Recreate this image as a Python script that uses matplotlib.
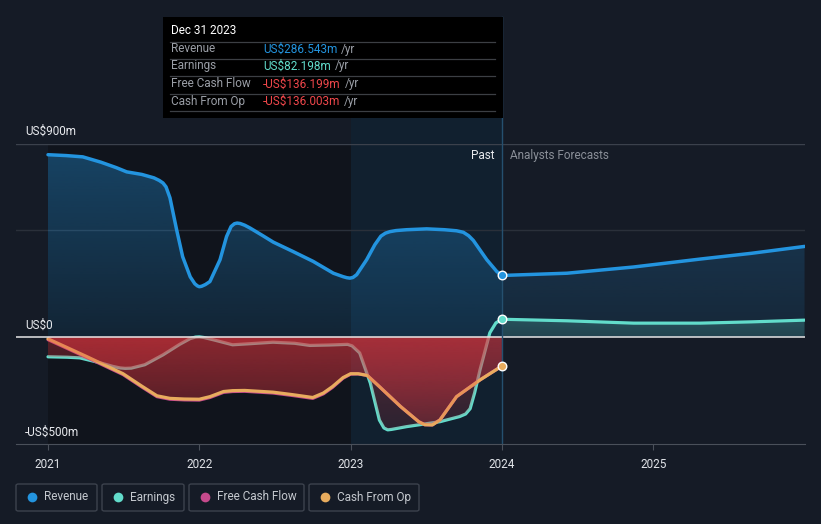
import numpy as np
import matplotlib
matplotlib.use("Agg")
import matplotlib.pyplot as plt
from matplotlib.patches import Rectangle, FancyBboxPatch

plt.rcParams['font.family'] = ['Roboto', 'DejaVu Sans']

# ---- data (US$m) ----
rev_years = [2021.0, 2021.12, 2021.23, 2021.35, 2021.45, 2021.52, 2021.62, 2021.70, 2021.735,
             2021.76, 2021.78, 2021.806, 2021.85, 2021.89, 2021.94, 2021.97, 2021.987, 2022.0,
             2022.015, 2022.04, 2022.07, 2022.137, 2022.18, 2022.21, 2022.232, 2022.25,
             2022.27, 2022.30, 2022.335, 2022.42, 2022.489, 2022.62, 2022.753, 2022.886,
             2022.95, 2022.975, 2022.995, 2023.015, 2023.04, 2023.106, 2023.16, 2023.2,
             2023.23, 2023.26, 2023.30, 2023.37, 2023.503, 2023.62, 2023.70, 2023.745,
             2023.78, 2023.811, 2023.9, 2023.966, 2024.0]
revenue = [850, 846, 840, 815, 790, 770, 758, 742, 730,
           718, 700, 649, 500, 374, 280, 248, 238, 234,
           236, 244, 258, 360, 468, 515, 528, 531,
           529, 521, 508, 472, 442, 398, 352, 297,
           281, 276, 274, 277, 290, 360, 430, 470,
           484, 491, 496, 500, 504, 500, 495, 488,
           472, 450, 360, 305, 286.5]
rev_fc_years = [2024.0, 2024.43, 2024.87, 2025.31, 2025.65, 2026.0]
revenue_fc = [286.5, 297, 326, 363, 390, 422]

earn_years = [2021.0, 2021.126, 2021.21, 2021.344, 2021.43, 2021.476, 2021.51, 2021.55,
              2021.64, 2021.76, 2021.87, 2021.94, 2021.975, 2022.0, 2022.03, 2022.10, 2022.22,
              2022.335, 2022.487, 2022.63, 2022.73, 2022.86, 2022.98, 2023.01, 2023.06,
              2023.13, 2023.19, 2023.22, 2023.245, 2023.27, 2023.37, 2023.59, 2023.72,
              2023.76, 2023.79, 2023.82, 2023.855, 2023.92, 2023.96, 2024.0]
earnings = [-93, -95, -98, -121, -138, -145, -147, -146,
            -130, -84, -35, -8, -1, 0, -3, -15, -37,
            -32, -25, -30, -40, -38, -35, -42, -75,
            -215, -388, -425, -434, -432, -419, -396, -372,
            -360, -335, -260, -154, 19, 65, 82.2]
earn_fc_years = [2024.0, 2024.43, 2024.87, 2025.31, 2025.65, 2026.0]
earnings_fc = [82.2, 75, 64, 64, 70, 78]

cash_years = [2021.0, 2021.25, 2021.496, 2021.62, 2021.72, 2021.806, 2021.9, 2022.0, 2022.07,
              2022.16, 2022.22, 2022.3, 2022.487, 2022.62, 2022.75, 2022.82, 2022.88, 2022.95,
              2023.0, 2023.05, 2023.11, 2023.19, 2023.33, 2023.45, 2023.49, 2023.54, 2023.59,
              2023.70, 2023.855, 2024.0]
cash_op = [-9, -90, -172, -230, -275, -287, -290, -291, -279,
           -255, -251, -250, -258, -270, -283, -262, -232, -190,
           -172, -172, -180, -232, -325, -396, -410, -411, -388,
           -279, -201, -136.0]
fcf = [-13, -94, -176, -234, -279, -291, -294, -295, -283,
       -259, -255, -254, -262, -274, -287, -266, -236, -193,
       -174, -173, -180, -232, -325, -396, -410, -411, -388,
       -279, -201, -136.2]

year_ticks = [2021, 2022, 2023, 2024, 2025]
legend_names = ['Revenue', 'Earnings', 'Free Cash Flow', 'Cash From Op']
tip_labels = ['Revenue', 'Earnings', 'Free Cash Flow', 'Cash From Op']
tip_values = ['US$286.543m', 'US$82.198m', '-US$136.199m', '-US$136.003m']

C_REV = '#2394df'
C_EARN = '#62dccb'
C_FCF = '#c64a8c'
C_CFO = '#e8ac5e'
C_NEG = '#e3363f'
BG = '#151b26'

W, H = 821, 524
fig = plt.figure(figsize=(W / 100, H / 100), dpi=100, facecolor=BG)
ax = fig.add_axes([16 / W, 80 / H, 789 / W, 300 / H])
ax.set_facecolor(BG)
x0, x1 = 2021 - 32 / 151.3, 2026.003
ax.set_xlim(x0, x1)
ax.set_ylim(-500, 900)


def px(x, y):
    return (x / W, 1 - y / H)


# background bands
ax.add_patch(Rectangle((2021, -500), 2, 1400, facecolor='#10141c', edgecolor='none', zorder=0))
ax.add_patch(Rectangle((2023, -500), 1, 1520, facecolor='#11202f', edgecolor='none',
                       zorder=0, clip_on=False))

# gridlines
ax.axhline(900, color='#3b414c', lw=1, zorder=1)
ax.axhline(500, color='#2a303a', lw=1, zorder=1)


def grad_fill(x, y, color, a_near, a_far, far, z):
    poly = ax.fill_between(x, y, 0, facecolor='none', edgecolor='none')
    rgb = matplotlib.colors.to_rgb(color)
    n = 256
    img = np.zeros((n, 1, 4))
    img[:, 0, :3] = rgb
    img[:, 0, 3] = np.linspace(a_far, a_near, n) if far < 0 else np.linspace(a_near, a_far, n)
    lo, hi = (far, 0) if far < 0 else (0, far)
    im = ax.imshow(img, extent=[x0, x1, lo, hi], origin='lower', aspect='auto', zorder=z,
                   interpolation='bilinear')
    im.set_clip_path(poly.get_paths()[0], transform=ax.transData)


line_kw = dict(solid_capstyle='round', solid_joinstyle='round')

# positive fills
grad_fill(rev_years, revenue, C_REV, 0.13, 0.38, 900, 2)
grad_fill(rev_fc_years, revenue_fc, C_REV, 0.10, 0.30, 900, 2)
grad_fill(earn_fc_years, earnings_fc, C_EARN, 0.16, 0.25, 100, 2)

# lines underneath the negative fills
ax.plot(earn_years, earnings, color=C_EARN, lw=2.3, zorder=3, **line_kw)
ax.plot(earn_fc_years, earnings_fc, color=C_EARN, lw=2.3, zorder=3, **line_kw)
grad_fill(cash_years, np.minimum(fcf, 0), C_NEG, 0.35, 0.10, -500, 4)
grad_fill(cash_years, np.minimum(cash_op, 0), C_NEG, 0.35, 0.10, -500, 4)
ax.plot(cash_years, fcf, color=C_FCF, lw=2.3, zorder=5, **line_kw)
ax.plot(cash_years, cash_op, color=C_CFO, lw=2.3, zorder=5, **line_kw)
grad_fill(earn_years, np.minimum(earnings, 0), C_NEG, 0.33, 0.10, -500, 6)

# zero line and revenue on top
ax.axhline(0, color='#e6e6e6', lw=1.1, zorder=7)
ax.plot(rev_years, revenue, color=C_REV, lw=2.5, zorder=8, **line_kw)
ax.plot(rev_fc_years, revenue_fc, color=C_REV, lw=2.5, zorder=8, **line_kw)

# marker dots at the last reported point
for yv, c in [(revenue[-1], C_REV), (earnings[-1], C_EARN), (cash_op[-1], C_CFO)]:
    ax.scatter([2024.0], [yv], s=38, color=c, edgecolors='white', linewidths=1.0, zorder=10)

# vertical "now" line
ax.plot([2024.0, 2024.0], [-500, 900 + (144 - 17) / 0.2141], color='#25506f', lw=1,
        zorder=9, clip_on=False)

# axes styling
for s in ['top', 'right', 'left']:
    ax.spines[s].set_visible(False)
ax.spines['bottom'].set_color('#4a505a')
ax.spines['bottom'].set_zorder(9)
ax.set_yticks([])
ax.set_xticks(year_ticks)
ax.set_xticklabels([str(y) for y in year_ticks])
ax.tick_params(axis='x', colors='#4a505a', labelcolor='#e0e3e8', labelsize=8.5, length=4,
               pad=6)

# y labels
fig.text(*px(25, 131), 'US$900m', color='#e8eaee', fontsize=8.5, va='center')
fig.text(*px(25, 325), 'US$0', color='#e8eaee', fontsize=8.5, va='center')
fig.text(*px(25, 432), '-US$500m', color='#e8eaee', fontsize=8.5, va='center')
fig.text(*px(494, 156), 'Past', color='#e8eaee', fontsize=8.5, va='center', ha='right')
fig.text(*px(510, 156), 'Analysts Forecasts', color='#8a8f98', fontsize=8.5, va='center')

# tooltip
fig.patches.append(Rectangle(px(163, 118), 340 / W, 101 / H, transform=fig.transFigure,
                             facecolor='black', edgecolor='none', zorder=20))
fig.text(*px(171, 31), 'Dec 31 2023', color='white', fontsize=8.5, va='center', zorder=21)
row_y = [49, 66, 84, 101]
sep_y = [41.5, 58.5, 76, 93.5, 111]
for sy in sep_y:
    fig.add_artist(plt.Line2D([170 / W, 495 / W], [1 - sy / H, 1 - sy / H], color='#3c3f44',
                              lw=0.9, zorder=21))
val_colors = [C_REV, C_EARN, '#f0474b', '#f0474b']
renderer = fig.canvas.get_renderer()
for lab, val, vc, ry in zip(tip_labels, tip_values, val_colors, row_y):
    fig.text(*px(171, ry), lab, color='#9a9ea6', fontsize=8.5, va='center', zorder=21)
    t = fig.text(*px(263, ry), val, color=vc, fontsize=8.5, va='center', zorder=21)
    bb = t.get_window_extent(renderer)
    fig.text((bb.x1 + 4) / W, 1 - ry / H, '/yr', color='#9a9ea6', fontsize=8.5, va='center',
             zorder=21)

# legend boxes
boxes = [(16, 97), (102, 184), (189, 304), (309, 419)]
leg_colors = [C_REV, C_EARN, C_FCF, C_CFO]
for (bx0, bx1), name, c in zip(boxes, legend_names, leg_colors):
    fig.patches.append(FancyBboxPatch(px(bx0, 511), (bx1 - bx0) / W, 27 / H,
                                      boxstyle='round,pad=0,rounding_size=0.003',
                                      transform=fig.transFigure, facecolor='none',
                                      edgecolor='#3c424d', lw=1))
    fig.add_artist(plt.Line2D([(bx0 + 16) / W], [1 - 497 / H], marker='o', markersize=7,
                              color=c, markeredgecolor='none'))
    fig.text(*px(bx0 + 28, 497), name, color='#c4c8ce', fontsize=8.5, va='center')

fig.savefig('out.png', dpi=100, facecolor=BG)
